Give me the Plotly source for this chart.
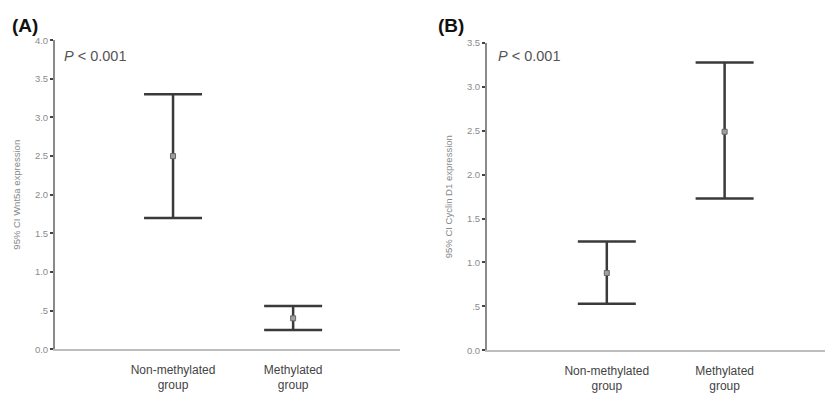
import plotly.graph_objects as go

# ---- data ----
groups = ["Non-methylated<br>group", "Methylated<br>group"]
wnt5a_mean = [2.50, 0.40]
wnt5a_upper = [3.30, 0.56]
wnt5a_lower = [1.70, 0.25]

cyclin_mean = [0.88, 2.49]
cyclin_upper = [1.24, 3.28]
cyclin_lower = [0.53, 1.73]

ytick_vals_a = [0, 0.5, 1.0, 1.5, 2.0, 2.5, 3.0, 3.5, 4.0]
ytick_text_a = ["0.0", ".5", "1.0", "1.5", "2.0", "2.5", "3.0", "3.5", "4.0"]
ytick_vals_b = [0, 0.5, 1.0, 1.5, 2.0, 2.5, 3.0, 3.5]
ytick_text_b = ["0.0", ".5", "1.0", "1.5", "2.0", "2.5", "3.0", "3.5"]

# page body has an 8px margin, so lay out in reference pixels minus 8
OFF = 8
W, H = 833 - OFF, 396 - OFF
FONT = "Liberation Sans, Arial, sans-serif"
BAR = "#3a3a3a"


def px_x(p):
    return (p - OFF) / W


def px_y(p):
    return 1 - (p - OFF) / H


fig = go.Figure()
pos = list(range(len(groups)))


def add_panel(mean, upper, lower, xa, ya):
    fig.add_trace(go.Scatter(
        x=pos, y=mean, xaxis=xa, yaxis=ya, mode="markers",
        marker=dict(symbol="square", size=5, color="#a0a0a0",
                    line=dict(color="#666666", width=1)),
        error_y=dict(type="data", symmetric=False,
                     array=[u - m for u, m in zip(upper, mean)],
                     arrayminus=[m - l for m, l in zip(mean, lower)],
                     color=BAR, thickness=2.5, width=29),
        showlegend=False, hoverinfo="skip"))


add_panel(wnt5a_mean, wnt5a_upper, wnt5a_lower, "x", "y")
add_panel(cyclin_mean, cyclin_upper, cyclin_lower, "x2", "y2")

xcommon = dict(tickvals=pos, ticktext=groups, showgrid=False, zeroline=False,
               showline=True, linecolor="#bdbdbd", linewidth=2, ticks="",
               ticklabelstandoff=8,
               tickfont=dict(family=FONT, size=12, color="#444444"))
ycommon = dict(showgrid=False, zeroline=False, showline=True,
               linecolor="#8a8a8a", linewidth=2, ticks="outside", ticklen=3,
               tickwidth=2, tickcolor="#444444",
               tickfont=dict(family=FONT, size=9.5, color="#8a8a8a"))

fig.update_layout(
    width=W, height=H, margin=dict(l=0, r=0, t=0, b=0),
    paper_bgcolor="white", plot_bgcolor="white",
    xaxis=dict(domain=[px_x(55), px_x(400)], range=[-0.983, 1.89], anchor="y", **xcommon),
    yaxis=dict(domain=[px_y(353), px_y(35)], range=[0, 4.0], anchor="x",
               tickvals=ytick_vals_a, ticktext=ytick_text_a,
               title=dict(text="95% CI Wnt5a expression", standoff=13,
                          font=dict(family=FONT, size=9.5, color="#888888")),
               **ycommon),
    xaxis2=dict(domain=[px_x(487), 1.0], range=[-1.017, 1.92], anchor="y2", **xcommon),
    yaxis2=dict(domain=[px_y(354), px_y(38)], range=[0, 3.5], anchor="x2",
                tickvals=ytick_vals_b, ticktext=ytick_text_b,
                title=dict(text="95% CI Cyclin D1 expression", standoff=13,
                           font=dict(family=FONT, size=9.5, color="#888888")),
                **ycommon),
    annotations=[
        dict(text="<b>(A)</b>", x=px_x(10), y=px_y(20), xref="paper", yref="paper",
             xanchor="left", yanchor="middle", showarrow=False,
             font=dict(family=FONT, size=19, color="#111111")),
        dict(text="<b>(B)</b>", x=px_x(436), y=px_y(20), xref="paper", yref="paper",
             xanchor="left", yanchor="middle", showarrow=False,
             font=dict(family=FONT, size=19, color="#111111")),
        dict(text="<i>P</i> < 0.001", x=px_x(62), y=px_y(51), xref="paper", yref="paper",
             xanchor="left", yanchor="middle", showarrow=False,
             font=dict(family=FONT, size=14.5, color="#555555")),
        dict(text="<i>P</i> < 0.001", x=px_x(496), y=px_y(51), xref="paper", yref="paper",
             xanchor="left", yanchor="middle", showarrow=False,
             font=dict(family=FONT, size=14.5, color="#555555")),
    ],
)

fig.write_html("out.html")
